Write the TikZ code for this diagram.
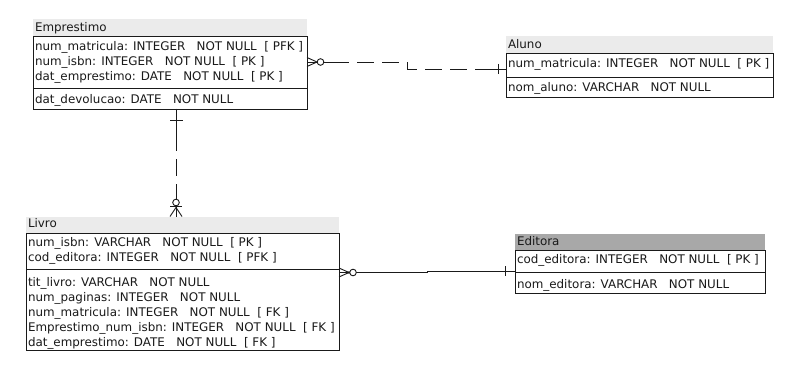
\documentclass[tikz,border=0pt]{standalone}
\usepackage{fontspec}
\setmainfont{DejaVu Sans}
\usetikzlibrary{calc}
\definecolor{hdrlight}{HTML}{EBEBEB}
\definecolor{hdrdark}{HTML}{A8A8A8}
\definecolor{ink}{HTML}{1A1A1A}
\begin{document}
\begin{tikzpicture}[x=1pt,y=-1pt,
  entity/.style={draw=ink,line width=0.9pt,fill=white,rectangle,inner sep=0pt,outer sep=0pt,anchor=north west},
  header/.style={rectangle,inner sep=0pt,outer sep=0pt,anchor=south west,minimum height=16.5pt},
  field/.style={anchor=base west,inner sep=0pt,outer sep=0pt,font=\fontsize{11.9}{14}\selectfont,text=ink},
  sepline/.style={draw=ink,line width=0.9pt},
  rel/.style={draw=ink,line width=0.9pt},
  reldash/.style={rel,dash pattern=on 17pt off 8pt},
  notation/.style={draw=ink,line width=0.9pt}
]
\useasboundingbox (0,0) rectangle (811,385);

% ---------- Emprestimo ----------
\node[entity,minimum width=274pt,minimum height=73pt] (emp) at (33,36) {};
\node[header,fill=hdrlight,minimum width=274pt] (emph) at (emp.north west) {};
\draw[sepline] ($(emp.north west)+(0,52)$) -- ($(emp.north east)+(0,52)$);
\node[field] (empt) at (35,31.5) {Emprestimo};
\node[field] (emp1) at (35,51) {num\_matricula: INTEGER~~~NOT NULL~~[ PFK ]};
\node[field] (emp2) at (35,66) {num\_isbn: INTEGER~~~NOT NULL~~[ PK ]};
\node[field] (emp3) at (35,81) {dat\_emprestimo: DATE~~~NOT NULL~~[ PK ]};
\node[field] (emp4) at (35,104) {dat\_devolucao: DATE~~~NOT NULL};

% ---------- Aluno ----------
\node[entity,minimum width=267pt,minimum height=44pt] (alu) at (506,53) {};
\node[header,fill=hdrlight,minimum width=267pt] (aluh) at (alu.north west) {};
\draw[sepline] ($(alu.north west)+(0,24)$) -- ($(alu.north east)+(0,24)$);
\node[field] (alut) at (508,48.5) {Aluno};
\node[field] (alu1) at (508,67.5) {num\_matricula: INTEGER~~~NOT NULL~~[ PK ]};
\node[field] (alu2) at (508,92) {nom\_aluno: VARCHAR~~~NOT NULL};

% ---------- Livro ----------
\node[entity,minimum width=313pt,minimum height=117pt] (liv) at (26,233) {};
\node[header,fill=hdrlight,minimum width=313pt] (livh) at (liv.north west) {};
\draw[sepline] ($(liv.north west)+(0,36)$) -- ($(liv.north east)+(0,36)$);
\node[field] (livt) at (28,227.5) {Livro};
\node[field] (liv1) at (28,246) {num\_isbn: VARCHAR~~~NOT NULL~~[ PK ]};
\node[field] (liv2) at (28,261) {cod\_editora: INTEGER~~~NOT NULL~~[ PFK ]};
\node[field] (liv3) at (28,286) {tit\_livro: VARCHAR~~~NOT NULL};
\node[field] (liv4) at (28,301) {num\_paginas: INTEGER~~~NOT NULL};
\node[field] (liv5) at (28,316) {num\_matricula: INTEGER~~~NOT NULL~~[ FK ]};
\node[field] (liv6) at (28,331) {Emprestimo\_num\_isbn: INTEGER~~~NOT NULL~~[ FK ]};
\node[field] (liv7) at (28,346) {dat\_emprestimo: DATE~~~NOT NULL~~[ FK ]};

% ---------- Editora ----------
\node[entity,minimum width=250pt,minimum height=43pt] (edi) at (515,250) {};
\node[header,fill=hdrdark,minimum width=250pt] (edih) at (edi.north west) {};
\draw[sepline] ($(edi.north west)+(0,22.5)$) -- ($(edi.north east)+(0,22.5)$);
\node[field] (edit) at (517,245.5) {Editora};
\node[field] (edi1) at (517,263.5) {cod\_editora: INTEGER~~~NOT NULL~~[ PK ]};
\node[field] (edi2) at (517,288) {nom\_editora: VARCHAR~~~NOT NULL};

% ---------- Emprestimo >o---|- Aluno (dashed) ----------
\draw[reldash] ($(emp.north east)+(0,26)$) -- ++(100,0) -- ++(0,7) -- ($(alu.north west)+(0,16)$);
\draw[rel] ($(emp.north east)+(0,26)$) -- ++(26,0);
\draw[rel] ($(alu.north west)+(0,16)$) -- ++(-16,0);
\draw[notation] ($(emp.north east)+(0,21.5)$) -- ($(emp.north east)+(10,26)$) -- ($(emp.north east)+(0,30.5)$);
\draw[notation,fill=white] ($(emp.north east)+(13.5,26)$) circle (3.3pt);
\draw[notation] ($(alu.north west)+(-8,11)$) -- ($(alu.north west)+(-8,21)$);

% ---------- Emprestimo -|---o< Livro (dashed) ----------
\draw[reldash] ($(emp.south west)+(143,0)$) -- ($(livh.north west)+(150,0)$);
\draw[rel] ($(emp.south west)+(143,0)$) -- ++(0,34);
\draw[rel] ($(livh.north west)+(150,0)$) -- ++(0,-24);
\draw[notation] ($(emp.south west)+(137,11)$) -- ($(emp.south west)+(150,11)$);
\draw[notation] ($(livh.north west)+(144,0)$) -- ($(livh.north west)+(150,-9)$) -- ($(livh.north west)+(156,0)$);
\draw[notation] ($(livh.north west)+(144,-10)$) -- ($(livh.north west)+(156,-10)$);
\draw[notation,fill=white] ($(livh.north west)+(150,-14)$) circle (3.3pt);

% ---------- Livro >o---|- Editora ----------
\draw[rel] ($(liv.north east)+(0,39.5)$) -- ++(88,0) -- ++(0,-1.5) -- ($(edi.north west)+(0,21)$);
\draw[notation] ($(liv.north east)+(0,35)$) -- ($(liv.north east)+(10,39.5)$) -- ($(liv.north east)+(0,44)$);
\fill[ink] ($(liv.north east)+(10,39.5)$) circle (1.4pt);
\draw[notation,fill=white] ($(liv.north east)+(14,39.5)$) circle (3.3pt);
\draw[notation] ($(edi.north west)+(-10,16)$) -- ($(edi.north west)+(-10,26)$);
\end{tikzpicture}
\end{document}
